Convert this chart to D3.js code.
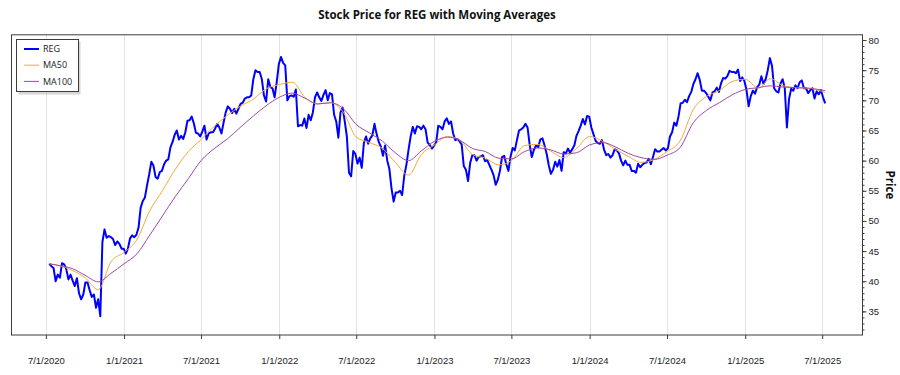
<!DOCTYPE html>
<html>
<head>
<meta charset="utf-8">
<script src="https://cdn.jsdelivr.net/npm/d3@7"></script>
<style>
    body { margin: 0; background: #fff; }
    svg { display: block; font-family: "Open Sans", "Noto Sans", sans-serif; }
</style>
</head>
<body>
<div id="chart"></div>
<script>
// closing prices, one reading every 5 calendar days starting at priceStart
const priceStart = '2020-07-09';
const priceStop = '2025-07-09';
const priceStepDays = 5;
const regPrices = [
    42.9, 42.5, 42.2, 40.0, 41.1, 40.6, 43.0, 42.8, 42.0, 40.3,
    41.1, 40.1, 39.2, 40.5, 38.0, 37.0, 37.8, 39.8, 39.8, 38.5,
    37.4, 37.8, 35.6, 37.0, 34.2, 46.5, 48.6, 47.2, 47.5, 47.3,
    47.0, 46.0, 46.6, 46.2, 45.4, 45.4, 44.6, 45.4, 47.1, 47.6,
    47.3, 47.7, 48.9, 52.2, 53.3, 53.9, 55.9, 57.7, 59.8, 59.2,
    57.3, 57.0, 58.1, 58.3, 59.4, 60.0, 60.2, 62.2, 63.1, 64.3,
    65.0, 63.5, 64.1, 63.6, 64.7, 66.6, 66.7, 67.3, 66.2, 64.6,
    64.5, 64.0, 64.8, 65.8, 63.5, 64.5, 64.7, 64.7, 65.3, 66.1,
    65.5, 64.5, 66.3, 68.0, 69.0, 68.6, 67.9, 68.6, 67.8, 68.6,
    69.4, 69.6, 70.3, 70.5, 70.5, 70.8, 73.5, 75.0, 74.7, 74.7,
    73.5, 70.8, 69.8, 73.5, 72.2, 72.0, 70.5, 73.0, 76.0, 77.2,
    76.2, 75.8, 70.0, 70.7, 70.8, 70.6, 71.8, 65.7, 65.9, 65.8,
    67.0, 65.4, 67.6, 66.7, 68.0, 70.5, 71.3, 70.5, 69.9, 70.9,
    71.7, 70.0, 71.2, 71.0, 67.6, 66.5, 63.8, 68.0, 68.8, 66.5,
    64.0, 58.0, 57.4, 61.6, 61.1, 59.5, 60.5, 58.8, 62.9, 64.0,
    62.8, 63.7, 64.2, 66.1, 64.4, 63.1, 62.3, 60.8, 62.5, 60.0,
    58.6, 55.4, 53.2, 54.7, 54.7, 55.0, 54.3, 57.5, 59.3, 61.8,
    64.0, 65.6, 64.5, 65.7, 65.6, 65.2, 65.8, 65.2, 63.0, 62.6,
    62.0, 62.5, 63.0, 65.8, 65.6, 65.2, 66.5, 67.0, 66.1, 66.5,
    64.5, 63.4, 63.6, 63.2, 62.7, 59.1, 58.5, 56.6, 59.6, 60.9,
    60.9, 60.0, 60.6, 60.7, 60.9, 59.9, 60.1, 59.3, 58.5, 57.6,
    56.0, 56.8, 58.3, 60.6, 60.8, 59.4, 58.3, 60.7, 62.1, 61.7,
    63.4, 65.0, 65.2, 65.5, 66.1, 65.5, 62.6, 60.6, 61.8, 62.5,
    62.2, 63.5, 63.7, 62.5, 61.1, 59.2, 57.8, 58.5, 59.8, 59.0,
    60.1, 58.3, 61.4, 61.2, 62.0, 61.3, 61.9, 62.5, 64.1, 64.9,
    65.8, 66.9, 66.0, 67.4, 67.3, 65.5, 64.4, 63.3, 62.9, 62.8,
    63.4, 61.8, 60.9, 61.1, 60.5, 60.9, 61.9, 61.7, 61.2, 60.0,
    59.2, 60.0, 59.3, 59.3, 58.3, 58.3, 58.0, 59.5, 58.9, 59.3,
    59.6, 59.7, 60.3, 59.4, 60.6, 61.9, 61.5, 61.5, 61.8, 62.1,
    61.7, 62.0, 64.0, 64.7, 66.3, 65.8, 67.3, 69.5, 69.6, 70.1,
    69.7, 70.7, 71.4, 72.7, 73.5, 74.5, 73.4, 71.6, 71.6, 71.2,
    70.6, 70.0, 71.3, 71.5, 72.1, 71.4, 72.8, 73.7, 73.6, 74.0,
    74.9, 74.7, 74.7, 74.5, 75.1, 73.2, 73.8, 73.2, 71.7, 69.0,
    70.7, 71.6, 71.1, 72.2, 72.6, 74.0, 72.7, 73.5, 75.0, 77.0,
    75.7, 72.0, 71.5, 71.3, 72.8, 73.5, 72.0, 65.5, 70.2, 71.9,
    71.6, 72.5, 72.0, 73.0, 73.3, 72.0, 72.0, 71.2, 71.7, 72.0,
    70.3, 71.5, 71.0, 71.7, 70.5, 69.5
];

// moving averages read at the start of each month
const maDates = [
    '2020-07-09', '2020-08-01', '2020-09-01', '2020-10-01', '2020-11-01', '2020-12-01',
    '2021-01-01', '2021-02-01', '2021-03-01', '2021-04-01', '2021-05-01', '2021-06-01',
    '2021-07-01', '2021-08-01', '2021-09-01', '2021-10-01', '2021-11-01', '2021-12-01',
    '2022-01-01', '2022-02-01', '2022-03-01', '2022-04-01', '2022-05-01', '2022-06-01',
    '2022-07-01', '2022-08-01', '2022-09-01', '2022-10-01', '2022-11-01', '2022-12-01',
    '2023-01-01', '2023-02-01', '2023-03-01', '2023-04-01', '2023-05-01', '2023-06-01',
    '2023-07-01', '2023-08-01', '2023-09-01', '2023-10-01', '2023-11-01', '2023-12-01',
    '2024-01-01', '2024-02-01', '2024-03-01', '2024-04-01', '2024-05-01', '2024-06-01',
    '2024-07-01', '2024-08-01', '2024-09-01', '2024-10-01', '2024-11-01', '2024-12-01',
    '2025-01-01', '2025-02-01', '2025-03-01', '2025-04-01', '2025-05-01', '2025-06-01',
    '2025-07-08'
];
const ma50 = [
    42.9, 42.6, 41.8, 40.6, 38.6, 43.2,
    44.8, 47.0, 51.5, 55.0, 58.5, 61.5,
    63.5, 65.7, 67.5, 69.0, 70.2, 71.9,
    72.6, 73.0, 70.6, 69.4, 69.6, 68.0,
    63.9, 63.0, 62.0, 59.7, 57.6, 61.0,
    62.6, 64.0, 63.4, 61.0, 60.4, 59.3,
    60.0, 62.5, 62.7, 61.6, 60.5, 62.0,
    64.0, 63.2, 61.9, 60.7, 59.7, 60.2,
    61.5, 63.3, 68.5, 70.6, 71.6, 73.1,
    73.5, 72.0, 73.6, 72.4, 72.1, 72.0,
    71.3
];
const ma100 = [
    42.9, 42.6, 42.1, 41.0, 39.9, 41.3,
    42.9, 44.6, 47.5, 50.8, 54.0, 57.0,
    60.0, 62.0, 63.6, 65.5, 67.4, 69.1,
    70.5, 71.2, 70.4, 69.4, 69.6, 68.6,
    66.0, 64.6, 63.2, 61.3, 60.0, 61.6,
    63.2, 63.9, 63.4, 62.0, 61.5, 60.4,
    60.3, 61.5, 62.1, 61.8, 61.1, 61.3,
    62.6, 63.0, 62.3, 61.2, 60.5, 60.2,
    60.9, 62.2, 66.3, 68.3, 69.6, 70.9,
    71.8, 72.1, 72.4, 72.2, 72.1, 72.0,
    71.6
];

const xTickDates = [
    '2020-07-01', '2021-01-01', '2021-07-01', '2022-01-01', '2022-07-01', '2023-01-01',
    '2023-07-01', '2024-01-01', '2024-07-01', '2025-01-01', '2025-07-01'
];
const xDomain = ['2020-04-10', '2025-10-05'];
const yDomain = [31.0, 80.95];
const seriesNames = ['REG', 'MA50', 'MA100'];
const seriesColors = ['#0000ff', '#f3a93a', '#9b4aa6'];

const chartWidth = 900;
const chartHeight = 375;
const plot = { left: 11, right: 863, top: 34.3, bottom: 335.5 };

const parseDate = d3.timeParse('%Y-%m-%d');

const priceDates = d3.timeDay.range(parseDate(priceStart), parseDate(priceStop), priceStepDays);
const regData = regPrices.slice(0, priceDates.length).map((v, i) => [priceDates[i], v]);
const ma50Data = maDates.map((d, i) => [parseDate(d), ma50[i]]);
const ma100Data = maDates.map((d, i) => [parseDate(d), ma100[i]]);

const svg = d3.select('#chart')
    .append('svg')
    .attr('width', chartWidth)
    .attr('height', chartHeight);

svg.append('rect')
    .attr('width', chartWidth)
    .attr('height', chartHeight)
    .attr('fill', '#fff');

const xScale = d3.scaleTime()
    .domain(xDomain.map(parseDate))
    .range([plot.left, plot.right]);

const yScale = d3.scaleLinear()
    .domain(yDomain)
    .range([plot.bottom, plot.top]);

const xTicks = xTickDates.map(parseDate);

// vertical grid lines
svg.append('g')
    .selectAll('line')
    .data(xTicks)
    .enter()
    .append('line')
    .attr('x1', d => Math.round(xScale(d)) + 0.5)
    .attr('x2', d => Math.round(xScale(d)) + 0.5)
    .attr('y1', plot.top)
    .attr('y2', plot.bottom)
    .attr('stroke', '#e3e3e3')
    .attr('stroke-width', 1);

svg.append('clipPath')
    .attr('id', 'plot-clip')
    .append('rect')
    .attr('x', plot.left)
    .attr('y', plot.top)
    .attr('width', plot.right - plot.left)
    .attr('height', plot.bottom - plot.top);

const line = d3.line()
    .x(d => xScale(d[0]))
    .y(d => yScale(d[1]));

const smoothLine = d3.line()
    .curve(d3.curveMonotoneX)
    .x(d => xScale(d[0]))
    .y(d => yScale(d[1]));

const plotArea = svg.append('g')
    .attr('clip-path', 'url(#plot-clip)');

plotArea.append('path')
    .datum(regData)
    .attr('d', line)
    .attr('fill', 'none')
    .attr('stroke', seriesColors[0])
    .attr('stroke-width', 2)
    .attr('stroke-linejoin', 'round');

plotArea.append('path')
    .datum(ma50Data)
    .attr('d', smoothLine)
    .attr('fill', 'none')
    .attr('stroke', seriesColors[1])
    .attr('stroke-width', 1);

plotArea.append('path')
    .datum(ma100Data)
    .attr('d', smoothLine)
    .attr('fill', 'none')
    .attr('stroke', seriesColors[2])
    .attr('stroke-width', 1);

// frame
svg.append('rect')
    .attr('x', plot.left + 0.5)
    .attr('y', plot.top + 0.5)
    .attr('width', plot.right - plot.left - 1)
    .attr('height', plot.bottom - plot.top - 1)
    .attr('fill', 'none')
    .attr('stroke', '#3c3c3c')
    .attr('stroke-width', 1);

// x axis
const xAxis = d3.axisBottom(xScale)
    .tickValues(xTicks)
    .tickFormat(d3.timeFormat('%-m/%-d/%Y'))
    .tickSize(4)
    .tickPadding(18);

const xAxisG = svg.append('g')
    .attr('class', 'x-axis')
    .attr('transform', 'translate(0,' + (plot.bottom - 0.5) + ')')
    .call(xAxis);

xAxisG.select('.domain').remove();
xAxisG.selectAll('line').attr('stroke', '#3c3c3c');
xAxisG.selectAll('text')
    .attr('fill', '#222')
    .style('font-size', '9.5px');

// y axis on the right, minor ticks every 1
const yMinor = svg.append('g')
    .attr('transform', 'translate(' + (plot.right - 0.5) + ',0)')
    .call(d3.axisRight(yScale).tickValues(d3.range(32, 81, 1)).tickSize(2).tickFormat(''));
yMinor.select('.domain').remove();
yMinor.selectAll('line').attr('stroke', '#3c3c3c');

const yAxis = d3.axisRight(yScale)
    .tickValues(d3.range(35, 81, 5))
    .tickSize(4)
    .tickPadding(2);

const yAxisG = svg.append('g')
    .attr('class', 'y-axis')
    .attr('transform', 'translate(' + (plot.right - 0.5) + ',0)')
    .call(yAxis);

yAxisG.select('.domain').remove();
yAxisG.selectAll('line').attr('stroke', '#3c3c3c');
yAxisG.selectAll('text')
    .attr('fill', '#222')
    .style('font-size', '9.5px');

svg.append('text')
    .attr('transform', 'translate(890,' + ((plot.top + plot.bottom) / 2) + ') rotate(90)')
    .attr('text-anchor', 'middle')
    .attr('dominant-baseline', 'central')
    .style('font-size', '11.5px')
    .style('font-weight', 'bold')
    .attr('fill', '#111')
    .text('Price');

// title
svg.append('text')
    .attr('x', (plot.left + plot.right) / 2)
    .attr('y', 19)
    .attr('text-anchor', 'middle')
    .style('font-size', '11.5px')
    .style('font-weight', 'bold')
    .attr('fill', '#111')
    .text('Stock Price for REG with Moving Averages');

// legend
const legend = svg.append('g')
    .attr('transform', 'translate(16,39)');

legend.append('rect')
    .attr('x', 2.5)
    .attr('y', 2.5)
    .attr('width', 62)
    .attr('height', 53)
    .attr('fill', '#bbb')
    .attr('opacity', 0.6);

legend.append('rect')
    .attr('x', 0.5)
    .attr('y', 0.5)
    .attr('width', 62)
    .attr('height', 52)
    .attr('fill', '#fff')
    .attr('stroke', '#3c3c3c');

const legendRows = legend.selectAll('.legend-row')
    .data(seriesNames)
    .enter()
    .append('g')
    .attr('class', 'legend-row')
    .attr('transform', (d, i) => 'translate(0,' + (10 + i * 16.2) + ')');

legendRows.append('line')
    .attr('x1', 8)
    .attr('x2', 23)
    .attr('y1', 0)
    .attr('y2', 0)
    .attr('stroke', (d, i) => seriesColors[i])
    .attr('stroke-width', (d, i) => i === 0 ? 2 : 1);

legendRows.append('text')
    .attr('x', 27)
    .attr('y', 0)
    .attr('dy', '0.35em')
    .style('font-size', '9px')
    .attr('fill', '#222')
    .text(d => d);
</script>
</body>
</html>
